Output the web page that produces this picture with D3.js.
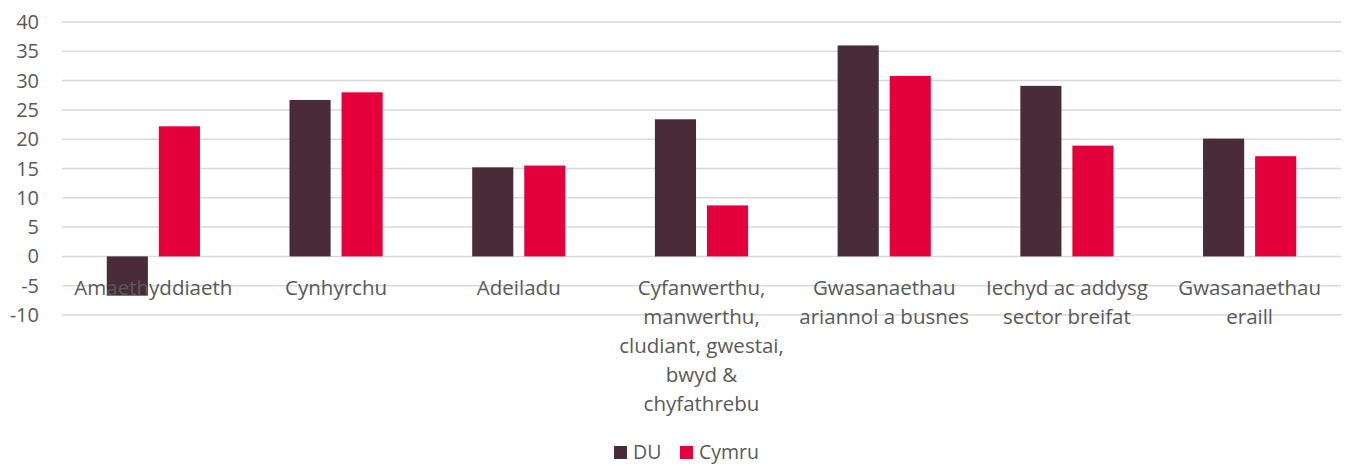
<!DOCTYPE html>
<html>
<head>
<meta charset="utf-8">
<script src="https://cdn.jsdelivr.net/npm/d3@7"></script>
<style>
  body { margin: 0; background: #fff; }
  text { font-family: "Open Sans", sans-serif; fill: #595959; }
</style>
</head>
<body>
<svg id="chart" width="1347" height="466"></svg>
<script>
const categories = [
  ["Amaethyddiaeth"],
  ["Cynhyrchu"],
  ["Adeiladu"],
  ["Cyfanwerthu,", "manwerthu,", "cludiant, gwestai,", "bwyd &", "chyfathrebu"],
  ["Gwasanaethau", "ariannol a busnes"],
  ["Iechyd ac addysg", "sector breifat"],
  ["Gwasanaethau", "eraill"],
];
const seriesNames = ["DU", "Cymru"];
const duValues = [-6.7, 26.7, 15.2, 23.4, 36.0, 29.1, 20.1];
const cymruValues = [22.2, 28.0, 15.5, 8.7, 30.8, 18.9, 17.1];
const yTicks = [-10, -5, 0, 5, 10, 15, 20, 25, 30, 35, 40];

const colors = { DU: "#4a2c38", Cymru: "#e4003b" };
const margin = { top: 22, right: 6, bottom: 151, left: 62 };
const width = 1347;
const height = 466;

const svg = d3.select("#chart");

const x0 = d3
  .scaleBand()
  .domain(d3.range(categories.length))
  .range([margin.left, width - margin.right])
  .padding(0);

const x1 = d3
  .scaleBand()
  .domain(seriesNames)
  .range([0, x0.bandwidth()])
  .paddingInner(0.21)
  .paddingOuter(0.86);

const y = d3
  .scaleLinear()
  .domain([-10, 40])
  .range([height - margin.bottom, margin.top]);

// gridlines
svg
  .append("g")
  .selectAll("line")
  .data(yTicks)
  .join("line")
  .attr("x1", margin.left)
  .attr("x2", width - margin.right)
  .attr("y1", (d) => y(d))
  .attr("y2", (d) => y(d))
  .attr("stroke", "#d9d9d9")
  .attr("stroke-width", 1.5);

// y labels
svg
  .append("g")
  .selectAll("text")
  .data(yTicks)
  .join("text")
  .attr("x", 39)
  .attr("y", (d) => y(d))
  .attr("dy", "0.35em")
  .attr("text-anchor", "end")
  .attr("font-size", 20)
  .text((d) => d);

const rows = categories.map((c, i) => ({
  i,
  DU: duValues[i],
  Cymru: cymruValues[i],
}));

// bars
const groups = svg
  .append("g")
  .selectAll("g")
  .data(rows)
  .join("g")
  .attr("transform", (d) => `translate(${x0(d.i)},0)`);

groups
  .selectAll("rect")
  .data((d) => seriesNames.map((s) => ({ key: s, value: d[s] })))
  .join("rect")
  .attr("x", (d) => x1(d.key))
  .attr("width", x1.bandwidth())
  .attr("y", (d) => y(Math.max(0, d.value)))
  .attr("height", (d) => Math.abs(y(d.value) - y(0)))
  .attr("fill", (d) => colors[d.key]);

// category labels
const labels = svg
  .append("g")
  .selectAll("text")
  .data(categories)
  .join("text")
  .attr("text-anchor", "middle")
  .attr("font-size", 20.5)
  .attr("transform", (d, i) => `translate(${x0(i) + x0.bandwidth() / 2},295)`);

labels
  .selectAll("tspan")
  .data((d) => d)
  .join("tspan")
  .attr("x", 0)
  .attr("y", (d, i) => i * 29)
  .text((d) => d);

// legend
const legend = svg
  .append("g")
  .attr("transform", "translate(614,452)");

const legendItems = legend
  .selectAll("g")
  .data(seriesNames)
  .join("g")
  .attr("transform", (d, i) => `translate(${i * 66},0)`);

legendItems
  .append("rect")
  .attr("x", 0)
  .attr("y", -6)
  .attr("width", 13)
  .attr("height", 13)
  .attr("fill", (d) => colors[d]);

legendItems
  .append("text")
  .attr("x", 19)
  .attr("dy", "0.35em")
  .attr("font-size", 19.5)
  .text((d) => d);
</script>
</body>
</html>
